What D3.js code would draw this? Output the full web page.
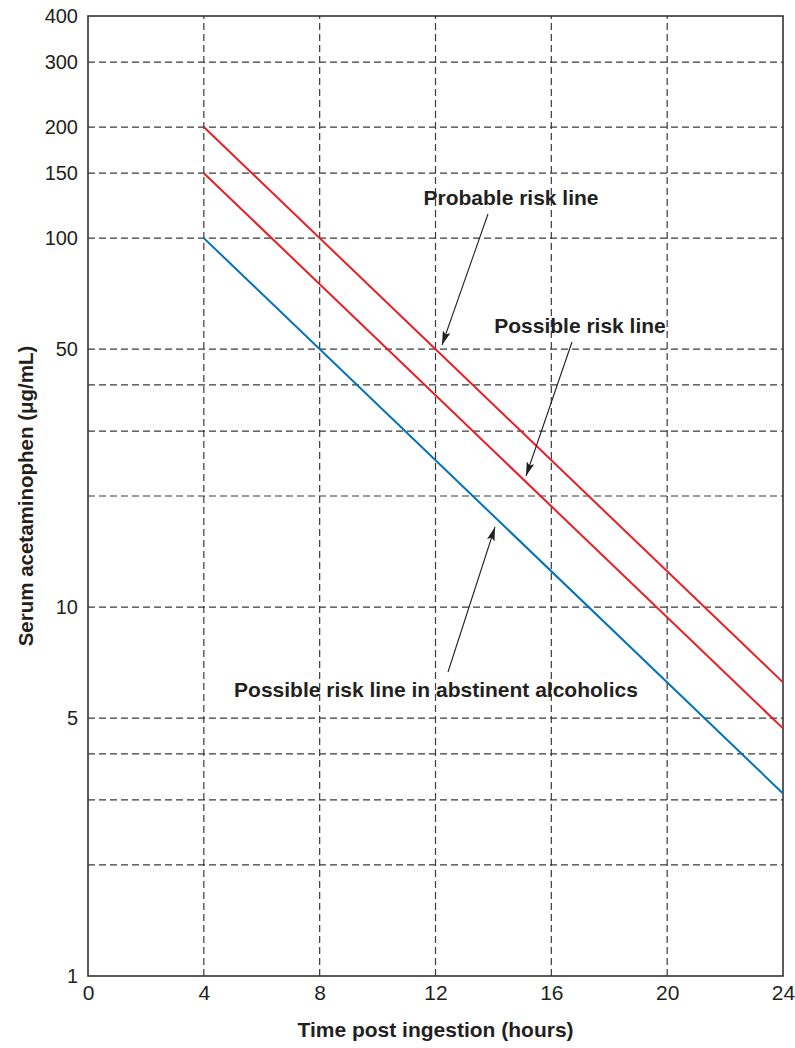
<!DOCTYPE html>
<html>
<head>
<meta charset="utf-8">
<script src="https://cdn.jsdelivr.net/npm/d3@7"></script>
<style>
  body { margin: 0; background: #fff; }
  text { font-family: "Liberation Sans", Arial, Helvetica, sans-serif; fill: #231f20; }
</style>
</head>
<body>
<div id="chart"></div>
<script>
// hours after ingestion
var hours = [4, 24];

// risk lines (ug/mL at 4 h and at 24 h)
var probableRisk = [200, 6.25];
var possibleRisk = [150, 4.69];
var abstinentRisk = [100, 3.125];

// tick labels and grid
var xTicks = [0, 4, 8, 12, 16, 20, 24];
var yTickLabels = [1, 5, 10, 50, 100, 150, 200, 300, 400];
var yGrid = [2, 3, 4, 5, 10, 20, 30, 40, 50, 100, 150, 200, 300];

var width = 795, height = 1048;
var margin = { top: 16, right: 12, bottom: 72, left: 88 };

var svg = d3.select("#chart")
  .append("svg")
  .attr("width", width)
  .attr("height", height);

var x = d3.scaleLinear().domain([0, 24]).range([margin.left, width - margin.right]);
var y = d3.scaleLog().domain([1, 400]).range([height - margin.bottom, margin.top]);

// dashed grid
svg.append("g").selectAll("line")
  .data(yGrid)
  .enter().append("line")
  .attr("x1", x(0)).attr("x2", x(24))
  .attr("y1", function(d) { return y(d); })
  .attr("y2", function(d) { return y(d); })
  .attr("stroke", "#3a3a3a")
  .attr("stroke-width", 1.2)
  .attr("stroke-dasharray", "7,4");

svg.append("g").selectAll("line")
  .data(xTicks.slice(1, -1))
  .enter().append("line")
  .attr("y1", y(1)).attr("y2", y(400))
  .attr("x1", function(d) { return x(d); })
  .attr("x2", function(d) { return x(d); })
  .attr("stroke", "#3a3a3a")
  .attr("stroke-width", 1.2)
  .attr("stroke-dasharray", "7,4");

// frame
svg.append("rect")
  .attr("x", x(0)).attr("y", y(400))
  .attr("width", x(24) - x(0))
  .attr("height", y(1) - y(400))
  .attr("fill", "none")
  .attr("stroke", "#333")
  .attr("stroke-width", 1.6);

// tick labels
var yAxis = d3.axisLeft(y)
  .tickValues(yTickLabels)
  .tickFormat(d3.format("d"))
  .tickSize(0)
  .tickPadding(10);
var gy = svg.append("g")
  .attr("transform", "translate(" + x(0) + ",0)")
  .call(yAxis);
gy.select(".domain").remove();
gy.selectAll("text")
  .attr("font-size", "20px")
  .attr("font-family", "Liberation Sans, Arial, sans-serif")
  .attr("fill", "#231f20");

var xAxis = d3.axisBottom(x)
  .tickValues(xTicks)
  .tickSize(0)
  .tickPadding(9);
var gx = svg.append("g")
  .attr("transform", "translate(0," + y(1) + ")")
  .call(xAxis);
gx.select(".domain").remove();
gx.selectAll("text")
  .attr("font-size", "21px")
  .attr("font-family", "Liberation Sans, Arial, sans-serif")
  .attr("fill", "#231f20");

// axis titles
svg.append("text")
  .attr("x", (x(0) + x(24)) / 2)
  .attr("y", 1037)
  .attr("text-anchor", "middle")
  .attr("font-size", "21px")
  .attr("font-weight", "bold")
  .text("Time post ingestion (hours)");

svg.append("text")
  .attr("transform", "translate(33," + ((y(1) + y(400)) / 2) + ")rotate(-90)")
  .attr("text-anchor", "middle")
  .attr("font-size", "20.5px")
  .attr("font-weight", "bold")
  .text("Serum acetaminophen (\u03bcg/mL)");

// risk lines
var line = d3.line()
  .x(function(d, i) { return x(hours[i]); })
  .y(function(d) { return y(d); });

[
  { vals: probableRisk, color: "#ec1c24" },
  { vals: possibleRisk, color: "#ec1c24" },
  { vals: abstinentRisk, color: "#0072bc" }
].forEach(function(s) {
  svg.append("path")
    .datum(s.vals)
    .attr("d", line)
    .attr("fill", "none")
    .attr("stroke", s.color)
    .attr("stroke-width", 2);
});

// arrowhead
svg.append("defs").append("marker")
  .attr("id", "arrow")
  .attr("viewBox", "0 0 14 8")
  .attr("refX", 14).attr("refY", 4)
  .attr("markerWidth", 14).attr("markerHeight", 8)
  .attr("markerUnits", "userSpaceOnUse")
  .attr("orient", "auto")
  .append("path")
  .attr("d", "M0,0 L14,4 L0,8 L3,4 Z")
  .attr("fill", "#231f20");

// annotations
var notes = [
  { text: "Probable risk line", tx: 511, ty: 205, x1: 488, y1: 214, x2: 442, y2: 345 },
  { text: "Possible risk line", tx: 580, ty: 333, x1: 572, y1: 342, x2: 526, y2: 476 },
  { text: "Possible risk line in abstinent alcoholics", tx: 436, ty: 697, x1: 448, y1: 672, x2: 495, y2: 527 }
];

notes.forEach(function(n) {
  svg.append("text")
    .attr("x", n.tx).attr("y", n.ty)
    .attr("text-anchor", "middle")
    .attr("font-size", "21px")
    .attr("font-weight", "bold")
    .text(n.text);
  svg.append("line")
    .attr("x1", n.x1).attr("y1", n.y1)
    .attr("x2", n.x2).attr("y2", n.y2)
    .attr("stroke", "#231f20")
    .attr("stroke-width", 1.1)
    .attr("marker-end", "url(#arrow)");
});
</script>
</body>
</html>
